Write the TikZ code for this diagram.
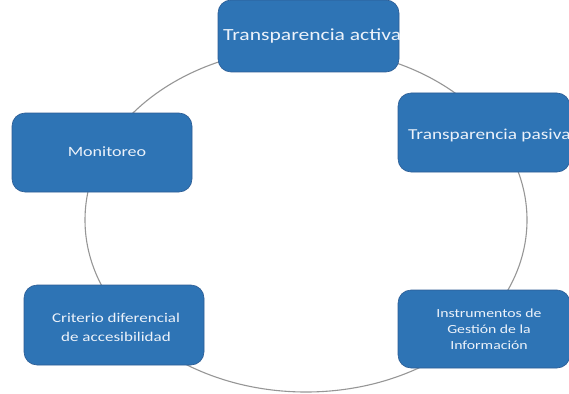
\documentclass[tikz,border=0pt]{standalone}
\usepackage{fontspec}
\setmainfont{Carlito}[FakeStretch=1.27]
\usepackage{tikz}
\usepackage{xcolor}
\definecolor{stageblue}{RGB}{46, 116, 181}
\definecolor{stageedge}{RGB}{44, 92, 148}
\definecolor{stagefont}{RGB}{236, 242, 250}
\definecolor{ringgray}{RGB}{150, 150, 150}
\tikzset{
    stagebox/.style={rectangle, rounded corners=13pt, draw=stageedge, fill=stageblue, line width=0.6pt, inner sep=0pt},
    stagetext/.style={text=stagefont, align=center, inner sep=0pt},
    ringline/.style={draw=ringgray, line width=1.1pt}
}
\begin{document}
\begin{tikzpicture}[x=1pt, y=-1pt]
    \useasboundingbox (0,0) rectangle (569,393);
    \draw[ringline] (306,220) ellipse [x radius=221pt, y radius=172pt];
    % stages of the cycle
    \node[stagebox, minimum width=181pt, minimum height=72pt] (activa) at (308.5,36) {};
    \begin{scope}
        \clip[rounded corners=13pt] (activa.south west) rectangle (activa.north east);
        \node[stagetext, anchor=west, font=\fontsize{17}{20}\selectfont] (activatxt) at (223,35.5) {Transparencia activa};
    \end{scope}
    \node[stagebox, minimum width=172pt, minimum height=79pt] (pasiva) at (484,132.5) {};
    \node[stagetext, anchor=west, font=\fontsize{15.2}{18}\selectfont] (pasivatxt) at (408,135) {Transparencia pasiva};
    \node[stagebox, stagetext, minimum width=172pt, minimum height=78pt, font=\fontsize{12.4}{16}\selectfont] (instrumentos) at (484,329) {};
    \node[stagetext, font=\fontsize{12.4}{16}\selectfont] (instrumentostxt) at (489,329) {Instrumentos de\\Gestión de la\\Información};
    \node[stagebox, minimum width=180pt, minimum height=80pt] (criterio) at (114,325) {};
    \node[stagetext, font=\fontsize{13.4}{19}\selectfont] (criteriotxt) at (116,327) {Criterio diferencial\\ de accesibilidad};
    \node[stagebox, minimum width=180pt, minimum height=79pt] (monitoreo) at (102,152.5) {};
    \node[stagetext, font=\fontsize{14.2}{17}\selectfont] (monitoreotxt) at (107,152) {Monitoreo};
\end{tikzpicture}
\end{document}
